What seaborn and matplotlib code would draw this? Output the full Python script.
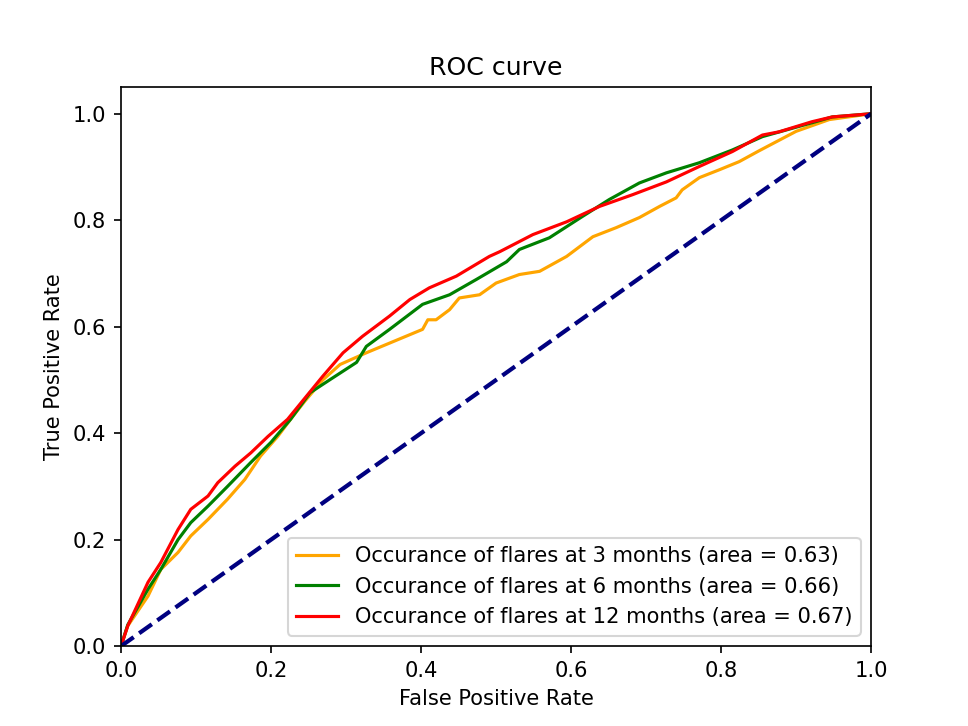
import matplotlib
matplotlib.use("Agg")
import matplotlib.pyplot as plt
import seaborn as sns

# ROC points
fpr_3m = [0.0, 0.009, 0.036, 0.053, 0.076, 0.093, 0.116, 0.142, 0.165, 0.186,
          0.209, 0.226, 0.245, 0.269, 0.292, 0.327, 0.402, 0.409, 0.420, 0.438,
          0.451, 0.478, 0.500, 0.531, 0.558, 0.594, 0.629, 0.660, 0.691, 0.718,
          0.740, 0.748, 0.771, 0.798, 0.824, 0.850, 0.877, 0.900, 0.944, 1.0]
tpr_3m = [0.0, 0.038, 0.094, 0.144, 0.176, 0.207, 0.238, 0.276, 0.313, 0.357,
          0.394, 0.426, 0.460, 0.500, 0.529, 0.551, 0.595, 0.613, 0.613, 0.632,
          0.654, 0.660, 0.682, 0.698, 0.704, 0.732, 0.769, 0.786, 0.805, 0.826,
          0.842, 0.857, 0.880, 0.895, 0.910, 0.930, 0.950, 0.967, 0.989, 1.0]

fpr_6m = [0.0, 0.009, 0.036, 0.053, 0.076, 0.093, 0.116, 0.142, 0.173, 0.200,
          0.226, 0.252, 0.278, 0.314, 0.327, 0.358, 0.402, 0.438, 0.474, 0.514,
          0.531, 0.540, 0.571, 0.615, 0.651, 0.691, 0.727, 0.771, 0.815, 0.855,
          0.921, 0.948, 1.0]
tpr_6m = [0.0, 0.040, 0.107, 0.144, 0.200, 0.232, 0.263, 0.300, 0.345, 0.383,
          0.426, 0.476, 0.500, 0.533, 0.563, 0.595, 0.642, 0.660, 0.689, 0.722,
          0.745, 0.750, 0.767, 0.807, 0.839, 0.870, 0.889, 0.908, 0.932, 0.957,
          0.983, 0.994, 1.0]

fpr_12m = [0.0, 0.009, 0.036, 0.053, 0.076, 0.093, 0.116, 0.129, 0.152, 0.173,
           0.196, 0.222, 0.269, 0.296, 0.322, 0.358, 0.385, 0.411, 0.447, 0.491,
           0.505, 0.549, 0.594, 0.638, 0.682, 0.727, 0.771, 0.815, 0.855, 0.877,
           0.921, 0.948, 1.0]
tpr_12m = [0.0, 0.038, 0.120, 0.157, 0.219, 0.257, 0.282, 0.307, 0.338, 0.363,
           0.394, 0.426, 0.507, 0.551, 0.582, 0.620, 0.651, 0.673, 0.695, 0.732,
           0.741, 0.773, 0.797, 0.826, 0.848, 0.872, 0.901, 0.929, 0.960, 0.966,
           0.985, 0.994, 1.0]

aucs = [0.63, 0.66, 0.67]
months = [3, 6, 12]
colors = ['orange', 'green', 'red']

fig, ax = plt.subplots(figsize=(6.4, 4.8), dpi=151.25)

curves = [(fpr_3m, tpr_3m), (fpr_6m, tpr_6m), (fpr_12m, tpr_12m)]
for (fpr, tpr), m, a, c in zip(curves, months, aucs, colors):
    sns.lineplot(x=fpr, y=tpr, color=c, lw=1.5, sort=False, ax=ax,
                 label='Occurance of flares at %d months (area = %0.2f)' % (m, a))

# chance line
ax.plot([0, 1], [0, 1], color='navy', lw=2, linestyle='--')
ax.set_xlim([0.0, 1.0])
ax.set_ylim([0.0, 1.05])
ax.set_xlabel('False Positive Rate')
ax.set_ylabel('True Positive Rate')
ax.set_title('ROC curve')
ax.legend(loc='lower right')

fig.savefig('out.png')
